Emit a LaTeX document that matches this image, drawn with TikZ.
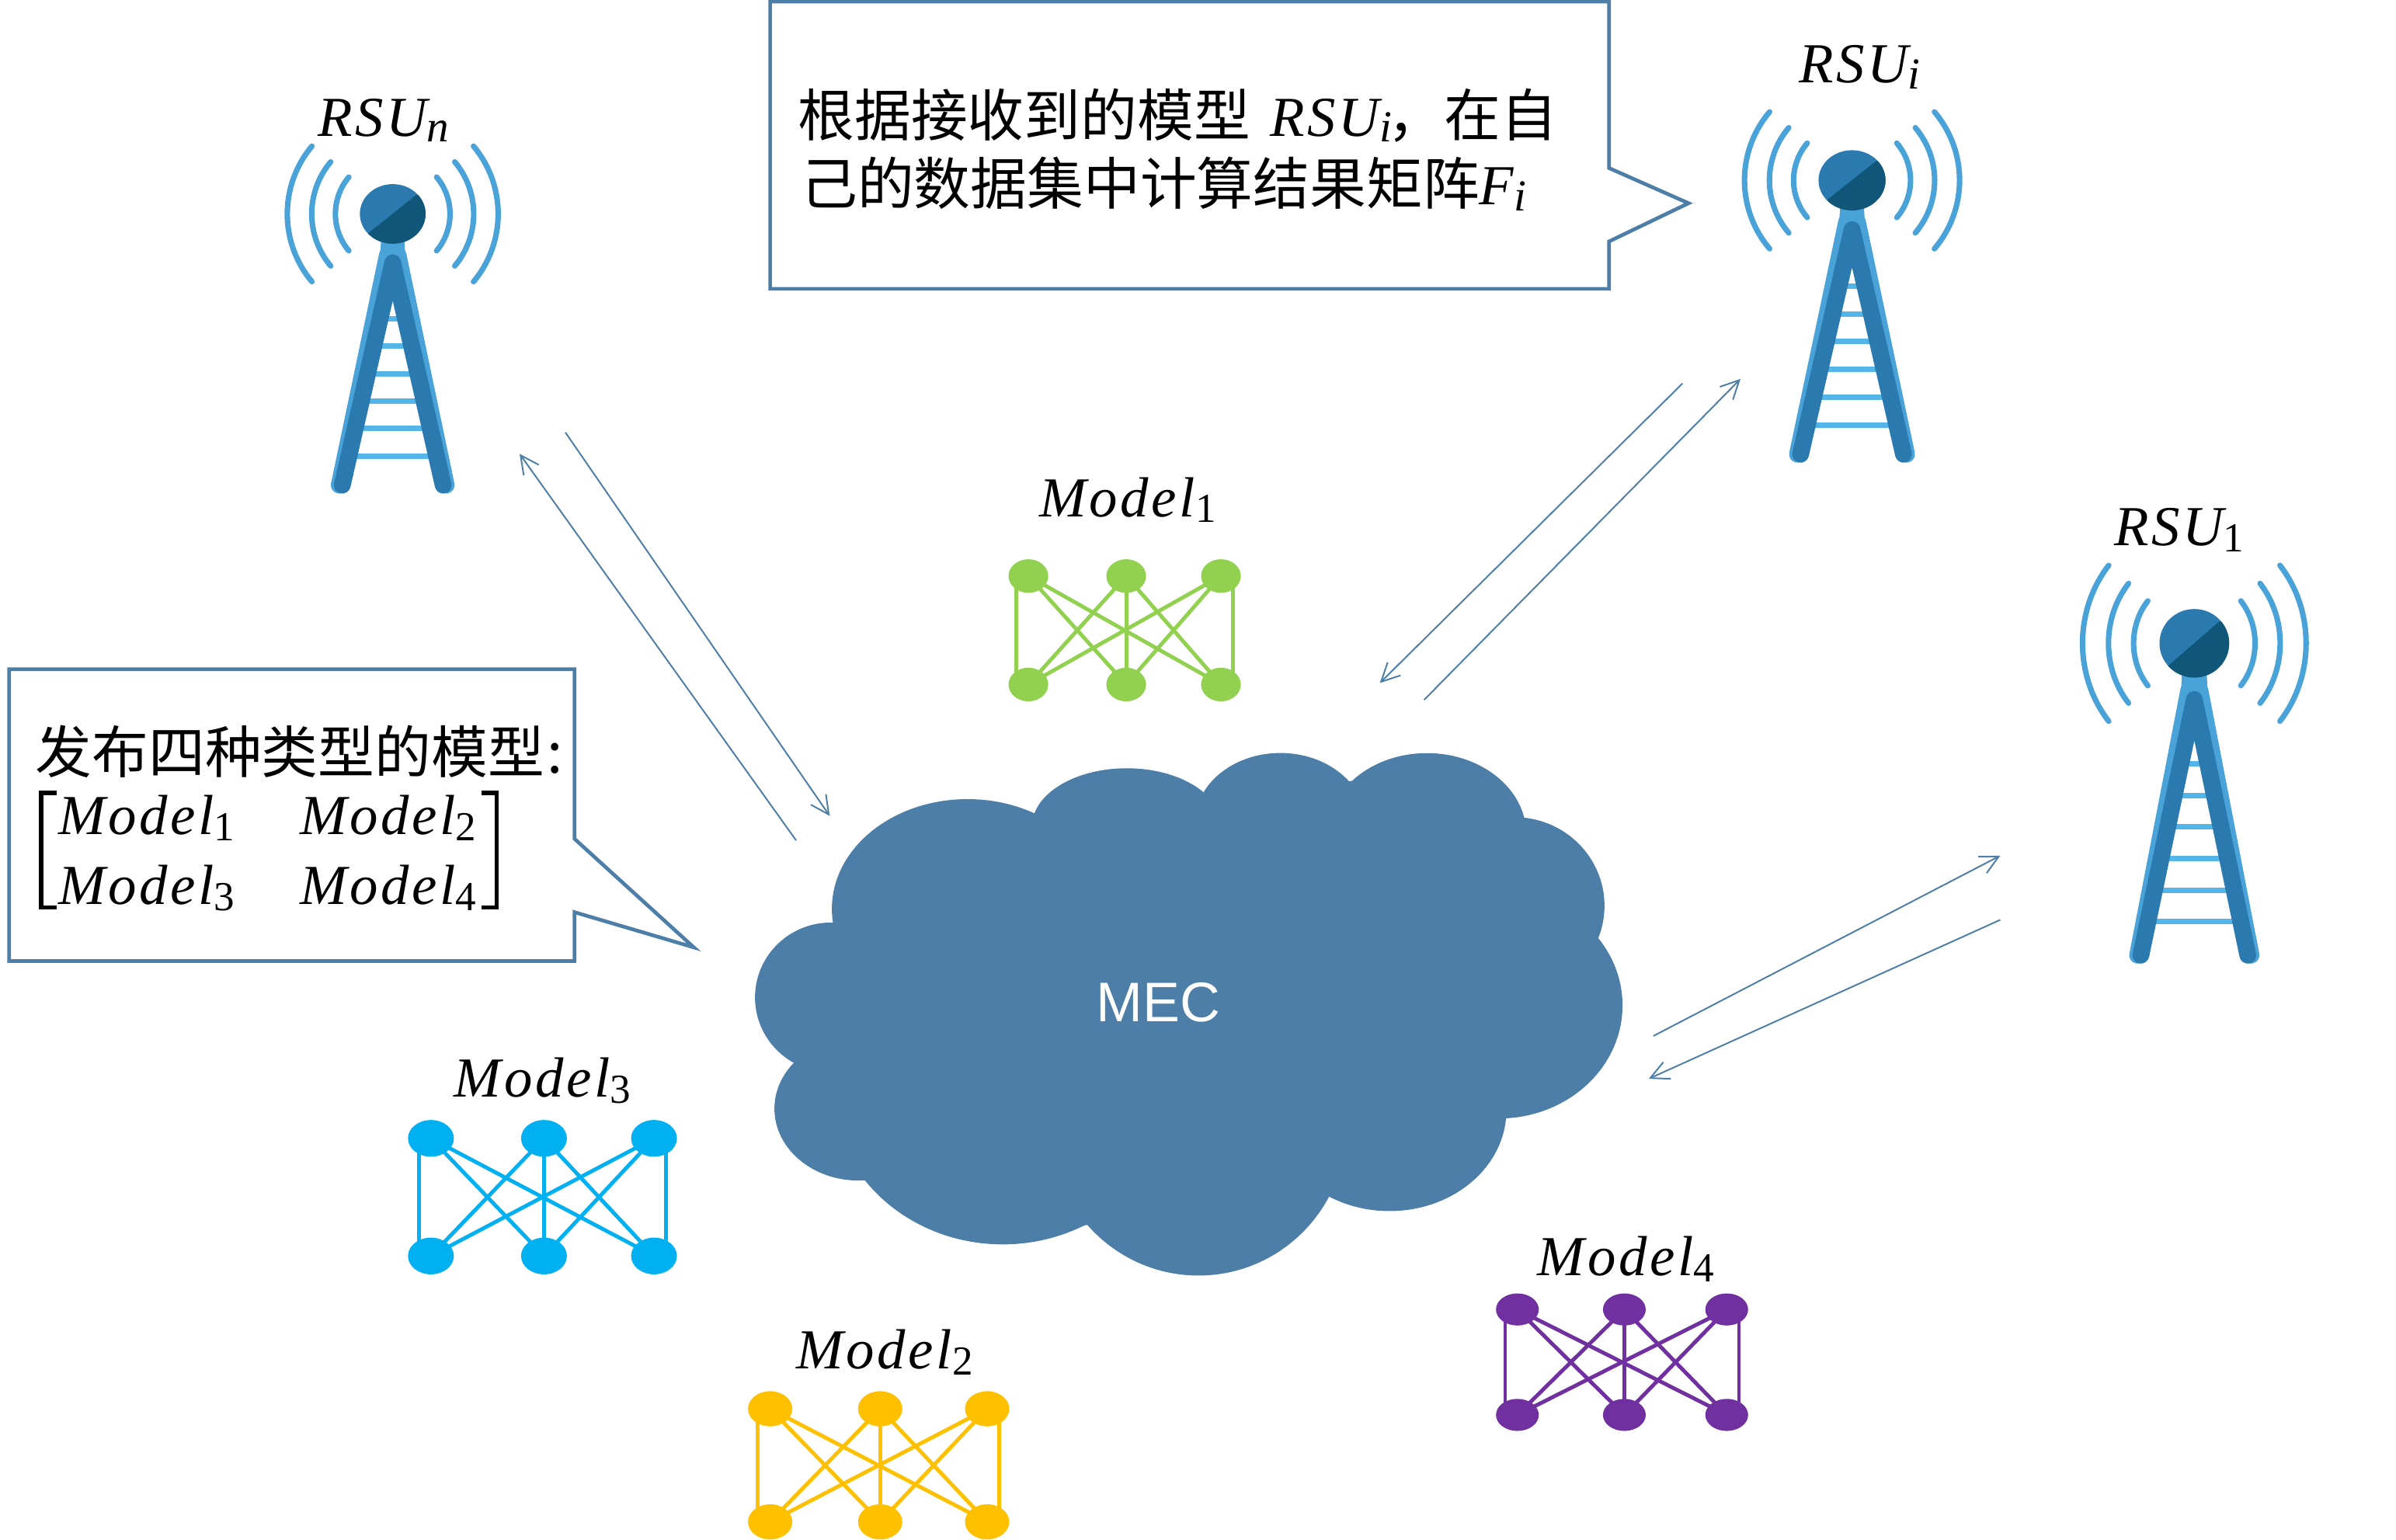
\documentclass[tikz,border=0pt]{standalone}
\usepackage{fontspec}
\usetikzlibrary{arrows.meta,shapes.geometric}
\setmainfont{Liberation Sans}
\newfontfamily\cjk{Noto Sans CJK SC}
\newfontfamily\vf{Liberation Serif}[LetterSpace=5]
\newfontfamily\vfsub{Liberation Serif}
\newcommand\mvn[2]{{\fontsize{37}{40}\selectfont\vf\itshape #1}\raisebox{-0.4em}{\fontsize{27}{30}\selectfont\vfsub #2}}
\newcommand\mvi[2]{{\fontsize{37}{40}\selectfont\vf\itshape #1}\raisebox{-0.4em}{\fontsize{29}{30}\selectfont\vfsub\itshape #2}}
\definecolor{cloudblue}{HTML}{4D7EA8}
\definecolor{arclight}{HTML}{4AA3D8}
\definecolor{legdark}{HTML}{2A79AF}
\definecolor{headdark}{HTML}{0F5679}
\definecolor{rung}{HTML}{54B5E8}
\definecolor{mgreen}{HTML}{92D050}
\definecolor{mcyan}{HTML}{00B0F0}
\definecolor{myellow}{HTML}{FFC000}
\definecolor{mpurple}{HTML}{7030A0}
\tikzset{
  callout/.style={draw=cloudblue,line width=2.4pt,fill=white,line join=miter},
  link/.style={draw=cloudblue,line width=1pt,-{Straight Barb[length=12pt,width=12pt,line width=1pt]}},
  lbl/.style={inner sep=0pt,anchor=base},
  txt/.style={inner sep=0pt,anchor=base west},
  cjktext/.style={txt,font=\cjk\fontsize{37}{40}\selectfont},
  wave/.style={draw=arclight,line width=3.6pt,line cap=round},
  netnode/.style={ellipse,inner sep=0pt,fill=#1},
}
% \rsu{x}{y}{xscale}{yscale}
\newcommand\rsu[4]{%
  \begin{scope}[shift={(#1,#2)},xscale=#3,yscale=#4]
    \foreach \r in {37.5,53,69}{
      \draw[wave] ({\r*cos(-40)},{\r*sin(-40)}) arc[start angle=-40,end angle=40,radius=\r];
      \draw[wave] ({\r*cos(140)},{\r*sin(140)}) arc[start angle=140,end angle=220,radius=\r];
    }
    \foreach \y in {68.5,86.5,104.5,122.5,140.5,158.5}{
      \draw[rung,line width=3.6pt] ({-(\y-48)*0.221-3},\y) -- ({(\y-48)*0.221+3},\y);
    }
    \fill[arclight] (-7.5,15) -- (7.5,15) -- (9,40) -- (-9,40) -- cycle;
    \draw[arclight,line width=11pt,line cap=round,line join=round] (-35,177.5) -- (-3.5,27) -- (3.5,27) -- (35,177.5);
    \draw[legdark,line width=11pt,line cap=round,line join=round] (-33,177.5) -- (0,32) -- (33,177.5);
    \begin{scope}
      \clip (0,0) ellipse [x radius=21.5,y radius=19.5];
      \fill[legdark] (-25,-25) rectangle (25,25);
      \fill[headdark] (-17,13.5) -- (15.5,-12.5) -- (30,-12.5) -- (30,30) -- (-17,30) -- cycle;
    \end{scope}
  \end{scope}}
% \modelnet{prefix}{colour}{x1}{x2}{x3}{ytop}{ybottom}{rx}{ry}
\newcommand\modelnet[9]{%
  \foreach \n/\cx in {1/#3,2/#4,3/#5}{
    \node[netnode=#2,minimum width=2*#8 pt,minimum height=2*#9 pt] (#1a\n) at (\cx,#6) {};
    \node[netnode=#2,minimum width=2*#8 pt,minimum height=2*#9 pt] (#1b\n) at (\cx,#7) {};
  }
  \foreach \i/\j in {1/2,1/3,2/1,2/2,2/3,3/1,3/2}{
    \draw[#2,line width=2.5pt] (#1a\i.center) -- (#1b\j.center);
  }
  \draw[#2,line width=2.5pt] ([xshift=-8pt]#1a1.center) -- ([xshift=-8pt]#1b1.center);
  \draw[#2,line width=2.5pt] ([xshift=8pt]#1a3.center) -- ([xshift=8pt]#1b3.center);
}
\begin{document}
\begin{tikzpicture}[x=1pt,y=-1pt]
\useasboundingbox (0,0) rectangle (1568,1007.4);
% towers
\rsu{257}{140}{1}{1}
\rsu{1212}{118}{1.02}{1.01}
\rsu{1436}{421}{1.06}{1.15}
\node[lbl] (rsun) at (251,89) {\mvi{RSU}{n}};
\node[lbl] (rsui) at (1217,54) {\mvi{RSU}{i}};
\node[lbl] (rsuone) at (1426,357) {\mvn{RSU}{1}};
% cloud
\fill[cloudblue] (677,533) -- (788,519) -- (886,511) -- (998,536) -- (1044,614) -- (985,730) -- (869,783) -- (709,802) -- (569,773) -- (520,694) -- (545,607) -- cycle;
\foreach \cx/\cy/\rx/\ry in {633.2/594.8/88.8/71.8, 737.4/540.8/62/38, 837.9/538.8/56/46, 933.8/545.9/65/53, 991/592.8/59/58, 980.8/658/81/74, 909.3/726.6/76.5/66, 784.3/736.8/97/98, 656.2/711.4/112/103, 561.8/725.6/55/47, 543.6/652.8/49.5/49}{
  \fill[cloudblue] (\cx,\cy) ellipse [x radius=\rx,y radius=\ry];
}
\node[inner sep=0pt,text=white,font=\fontsize{36.5}{40}\selectfont] (mec) at (758,656) {MEC};
% links
\coordinate (n1) at (370,283); \coordinate (n2) at (543,534);
\coordinate (n3) at (521,550); \coordinate (n4) at (340,297);
\coordinate (i1) at (932,458); \coordinate (i2) at (1139,248);
\coordinate (i3) at (1101,251); \coordinate (i4) at (903,447);
\coordinate (o1) at (1082,678); \coordinate (o2) at (1309,560);
\coordinate (o3) at (1309,602); \coordinate (o4) at (1079,706);
\draw[link] (n1) -- (n2);
\draw[link] (n3) -- (n4);
\draw[link] (i1) -- (i2);
\draw[link] (i3) -- (i4);
\draw[link] (o1) -- (o2);
\draw[link] (o3) -- (o4);
% networks
\modelnet{p}{mgreen}{673}{737}{799}{377}{448}{13}{11}
\modelnet{q}{mcyan}{282}{356}{428}{745}{822}{15}{12}
\modelnet{r}{myellow}{504}{576}{646}{922}{996}{14.5}{11.5}
\modelnet{s}{mpurple}{993}{1063}{1130}{857}{926}{14}{10.5}
\node[lbl] (lp) at (738,338) {\mvn{Model}{1}};
\node[lbl] (lq) at (355,718) {\mvn{Model}{3}};
\node[lbl] (lr) at (579,896) {\mvn{Model}{2}};
\node[lbl] (ls) at (1064,835) {\mvn{Model}{4}};
% callouts
\draw[callout] (504,1) -- (1053,1) -- (1053,110) -- (1105,133) -- (1053,158) -- (1053,189) -- (504,189) -- cycle;
\draw[callout] (6,438) -- (376,438) -- (376,549) -- (454,620) -- (376,597) -- (376,629) -- (6,629) -- cycle;
\node[cjktext] (c1) at (522,89) {根据接收到的模型};
\node[txt] (c2) at (831,89) {\mvi{RSU}{i}};
\node[cjktext] (c3) at (908,89) {，在自};
\node[cjktext] (c4) at (524,134) {己的数据集中计算结果矩阵};
\node[txt] (c5) at (968,134) {\mvi{F}{i}};
\node[cjktext] (d1) at (23,506) {发布四种类型的模型\kern2pt:};
\node[txt] (d2) at (38,546) {\mvn{Model}{1}};
\node[txt] (d3) at (196,546) {\mvn{Model}{2}};
\node[txt] (d4) at (38,592) {\mvn{Model}{3}};
\node[txt] (d5) at (196,592) {\mvn{Model}{4}};
\draw[black,line width=2.8pt] (37,519) -- (27,519) -- (27,594) -- (37,594);
\draw[black,line width=2.8pt] (315,519) -- (325,519) -- (325,594) -- (315,594);
\end{tikzpicture}
\end{document}
